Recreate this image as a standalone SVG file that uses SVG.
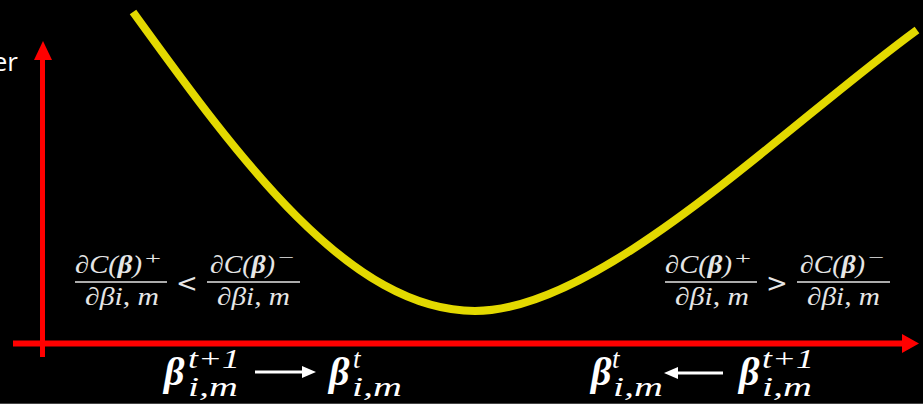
<svg xmlns="http://www.w3.org/2000/svg" width="923" height="404" viewBox="0 0 923 404">
<style>
.math{font-family:"Liberation Serif","DejaVu Serif",serif;font-style:italic;fill:#e6e6e6;font-size:25px}
.sm{font-family:"Liberation Serif","DejaVu Serif",serif;fill:#e6e6e6;font-size:17px}
.rel{font-family:"DejaVu Serif",serif;font-size:26px;fill:#e6e6e6}
.beta{font-family:"Liberation Serif","DejaVu Serif",serif;font-weight:bold;font-style:italic;fill:#ffffff;font-size:40px}
.sup{font-family:"Liberation Serif","DejaVu Serif",serif;font-style:italic;fill:#ffffff;font-size:27px}
.bar{stroke:#e6e6e6;stroke-width:1.4}
.axis{stroke:#ff0000;fill:none}
.warrow{stroke:#ffffff;stroke-width:3}
</style>
<rect x="0" y="0" width="923" height="404" fill="#000000"/>
<line x1="0" y1="403.5" x2="923" y2="403.5" stroke="#444444" stroke-width="1"/>
<text x="18" y="71" font-family="'Open Sans','Noto Sans',sans-serif" font-size="26" fill="#ffffff" text-anchor="end">er</text>
<g id="connectors">
  <line class="axis" x1="42.5" y1="57" x2="42.5" y2="357" stroke-width="5"/>
  <polygon points="43,41 34,60 52,60" fill="#ff0000"/>
  <line class="axis" x1="13" y1="343.5" x2="905" y2="343.5" stroke-width="6"/>
  <polygon points="919,343.5 902,334 902,353" fill="#ff0000"/>
</g>
<g id="curve">
  <path d="M133,12 C240,160 350,311 475,311 C600,311 780,130 917,30" fill="none" stroke="#e3d900" stroke-width="8"/>
</g>
<g id="formula-left">
  <text class="math" x="75" y="273" textLength="67" lengthAdjust="spacingAndGlyphs">∂C(<tspan font-weight="bold">β</tspan>)</text>
  <text class="sm" x="145" y="264" textLength="16" lengthAdjust="spacingAndGlyphs">+</text>
  <line class="bar" x1="75" y1="282" x2="167" y2="282"/>
  <text class="math" x="85" y="305" textLength="74" lengthAdjust="spacingAndGlyphs">∂βi, m</text>
  <text class="rel" x="187" y="292" text-anchor="middle">&lt;</text>
  <text class="math" x="210" y="273" textLength="65" lengthAdjust="spacingAndGlyphs">∂C(<tspan font-weight="bold">β</tspan>)</text>
  <text class="sm" x="278" y="263" textLength="16" lengthAdjust="spacingAndGlyphs">−</text>
  <line class="bar" x1="207" y1="282" x2="300" y2="282"/>
  <text class="math" x="217" y="305" textLength="73" lengthAdjust="spacingAndGlyphs">∂βi, m</text>
</g>
<g id="formula-right">
  <text class="math" x="665" y="273" textLength="67" lengthAdjust="spacingAndGlyphs">∂C(<tspan font-weight="bold">β</tspan>)</text>
  <text class="sm" x="735" y="264" textLength="16" lengthAdjust="spacingAndGlyphs">+</text>
  <line class="bar" x1="665" y1="282" x2="757" y2="282"/>
  <text class="math" x="675" y="305" textLength="74" lengthAdjust="spacingAndGlyphs">∂βi, m</text>
  <text class="rel" x="777" y="292" text-anchor="middle">&gt;</text>
  <text class="math" x="800" y="273" textLength="65" lengthAdjust="spacingAndGlyphs">∂C(<tspan font-weight="bold">β</tspan>)</text>
  <text class="sm" x="868" y="263" textLength="16" lengthAdjust="spacingAndGlyphs">−</text>
  <line class="bar" x1="797" y1="282" x2="890" y2="282"/>
  <text class="math" x="807" y="305" textLength="73" lengthAdjust="spacingAndGlyphs">∂βi, m</text>
</g>
<g id="label-left">
  <text class="beta" x="164" y="385">β</text>
  <text class="sup" x="188" y="368" textLength="52" lengthAdjust="spacingAndGlyphs">t+1</text>
  <text class="sup" x="188" y="396" textLength="50" lengthAdjust="spacingAndGlyphs">i,m</text>
  <line class="warrow" x1="255" y1="372" x2="303" y2="372"/>
  <polygon points="316,372 302,366 302,378" fill="#ffffff"/>
  <text class="beta" x="329" y="385">β</text>
  <text class="sup" x="353" y="368">t</text>
  <text class="sup" x="352" y="396" textLength="50" lengthAdjust="spacingAndGlyphs">i,m</text>
</g>
<g id="label-right">
  <text class="beta" x="591" y="385">β</text>
  <text class="sup" x="612" y="368">t</text>
  <text class="sup" x="613" y="396" textLength="50" lengthAdjust="spacingAndGlyphs">i,m</text>
  <line class="warrow" x1="678" y1="373" x2="723" y2="373"/>
  <polygon points="664,373 678,367 678,379" fill="#ffffff"/>
  <text class="beta" x="739" y="385">β</text>
  <text class="sup" x="762" y="368" textLength="52" lengthAdjust="spacingAndGlyphs">t+1</text>
  <text class="sup" x="762" y="396" textLength="50" lengthAdjust="spacingAndGlyphs">i,m</text>
</g>
</svg>
